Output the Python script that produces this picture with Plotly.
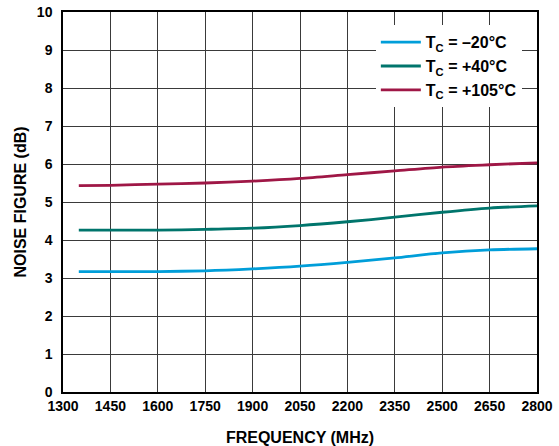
import plotly.graph_objects as go

freq = [1350, 1450, 1600, 1750, 1900, 2050, 2200, 2350, 2500, 2650, 2800]
nf_m20 = [3.17, 3.17, 3.17, 3.19, 3.24, 3.31, 3.41, 3.53, 3.66, 3.74, 3.77]
nf_p40 = [4.26, 4.26, 4.26, 4.28, 4.31, 4.38, 4.48, 4.60, 4.73, 4.84, 4.90]
nf_p105 = [5.43, 5.44, 5.47, 5.50, 5.55, 5.62, 5.72, 5.82, 5.92, 5.98, 6.03]
names = ["<b>T<sub>C</sub> = –20°C</b>", "<b>T<sub>C</sub> = +40°C</b>", "<b>T<sub>C</sub> = +105°C</b>"]
colors = ["#009ED9", "#00756C", "#9F1746"]
x_ticks = [1300, 1450, 1600, 1750, 1900, 2050, 2200, 2350, 2500, 2650, 2800]
y_ticks = list(range(0, 11))

fig = go.Figure()
for y, n, c in zip([nf_m20, nf_p40, nf_p105], names, colors):
    fig.add_trace(go.Scatter(x=freq, y=y, mode="lines", name=n,
                             line=dict(color=c, width=2.8, shape="spline", smoothing=0.8)))

fam = "Liberation Sans, Arial"
fig.update_layout(
    width=559, height=446,
    margin=dict(l=63, r=22, t=12, b=54),
    paper_bgcolor="white", plot_bgcolor="white",
    font=dict(family=fam, size=14, color="black"),
    showlegend=True,
    legend=dict(x=0.66, y=0.965, xanchor="left", yanchor="top",
                bgcolor="white", font=dict(family=fam, size=16, color="black"),
                tracegroupgap=0, itemwidth=40),
    xaxis=dict(range=[1300, 2800], tickvals=x_ticks, ticktext=[f"<b>{t}</b>" for t in x_ticks],
               tickfont=dict(size=14),
               showgrid=True, gridcolor="#3a3a3a", gridwidth=1,
               showline=True, linecolor="black", linewidth=1.5, mirror=True,
               ticks="", zeroline=False, automargin=False,
               title=dict(text="<b>FREQUENCY (MHz)</b>", font=dict(size=16), standoff=19)),
    yaxis=dict(range=[0, 10], tickvals=y_ticks,
               ticktext=[f"<b>{t}</b>" for t in y_ticks],
               tickfont=dict(size=14), ticklabelstandoff=6,
               showgrid=True, gridcolor="#3a3a3a", gridwidth=1,
               showline=True, linecolor="black", linewidth=1.5, mirror=True,
               ticks="", zeroline=False, automargin=False,
               title=dict(text="<b>NOISE FIGURE (dB)</b>", font=dict(size=16), standoff=6)),
)
fig.write_html("out.html", config={"displayModeBar": False},
               post_script="document.body.style.margin='0';")
